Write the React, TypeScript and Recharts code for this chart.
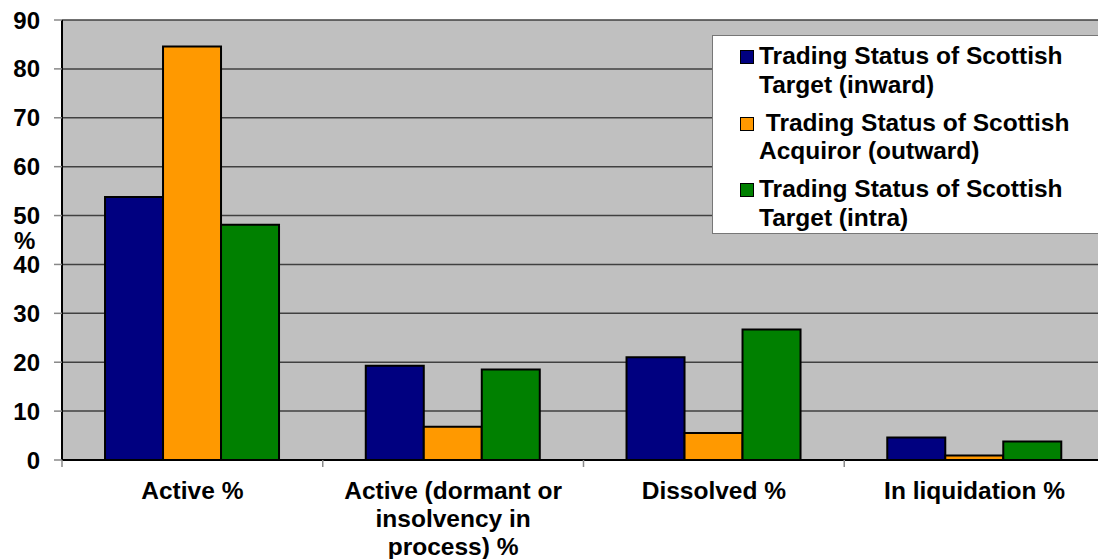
import { BarChart, Bar, XAxis, YAxis, CartesianGrid, Legend } from "recharts";

const categories = [
  "Active %",
  "Active (dormant or insolvency in process) %",
  "Dissolved %",
  "In liquidation %",
];
const inward = [53.8, 19.3, 21.0, 4.6];
const outward = [84.6, 6.8, 5.5, 0.9];
const intra = [48.1, 18.5, 26.7, 3.8];
const seriesNames = [
  "Trading Status of Scottish Target (inward)",
  " Trading Status of Scottish Acquiror (outward)",
  "Trading Status of Scottish Target (intra)",
];
const seriesColors = ["#000080", "#FF9900", "#008000"];
const yTicks = [0, 10, 20, 30, 40, 50, 60, 70, 80, 90];

const data = categories.map((name, i) => ({
  name,
  inward: inward[i],
  outward: outward[i],
  intra: intra[i],
}));

const CHART_W = 1110;
const CHART_H = 559;
const Y_AXIS_W = 62;
const X_AXIS_H = 99;
const MARGIN = { top: 20, right: 5, bottom: 0, left: 0 };
const BAND = (CHART_W - Y_AXIS_W - MARGIN.left - MARGIN.right) / categories.length;
const FONT = "'Liberation Sans', Arial, sans-serif";
const LABEL_SIZE = 24.5;

// word-wrap using canvas measurement so the breaks match the reference
function wrap(text: string, maxWidth: number): string[] {
  const ctx = document.createElement("canvas").getContext("2d");
  if (!ctx) return [text];
  ctx.font = `bold ${LABEL_SIZE}px 'Liberation Sans', Arial, sans-serif`;
  const words = text.split(" ");
  const lines: string[] = [];
  let cur = "";
  for (const w of words) {
    const next = cur ? cur + " " + w : w;
    if (cur && ctx.measureText(next).width > maxWidth) {
      lines.push(cur);
      cur = w;
    } else {
      cur = next;
    }
  }
  if (cur) lines.push(cur);
  return lines;
}

function CategoryTick(props: any) {
  const { x, y, payload } = props;
  const lines = wrap(payload.value, 240);
  return (
    <g>
      <line x1={x - BAND / 2} y1={y} x2={x - BAND / 2} y2={y + 7} stroke="#888" strokeWidth={1.5} />
      <text
        x={x}
        y={y + 39}
        textAnchor="middle"
        style={{ fontFamily: FONT, fontSize: LABEL_SIZE, fontWeight: 700, fill: "#000" }}
      >
        {lines.map((l, i) => (
          <tspan key={i} x={x} dy={i === 0 ? 0 : 28}>
            {l}
          </tspan>
        ))}
      </text>
    </g>
  );
}

function LegendBox() {
  return (
    <div
      style={{
        background: "#fff",
        border: "1px solid #777",
        width: 420,
        height: 199,
        boxSizing: "border-box",
        padding: "6px 0 0 27px",
        fontFamily: FONT,
        fontSize: LABEL_SIZE,
        fontWeight: 700,
        lineHeight: "28.5px",
        color: "#000",
      }}
    >
      {seriesNames.map((name, i) => (
        <div key={name} style={{ display: "flex", alignItems: "flex-start", marginBottom: 9.5 }}>
          <span
            style={{
              display: "inline-block",
              width: 12,
              height: 12,
              marginTop: 8,
              marginRight: 5,
              background: seriesColors[i],
              border: "1.5px solid #000",
              flexShrink: 0,
            }}
          />
          <span style={{ width: 330, whiteSpace: "pre-wrap" }}>{name}</span>
        </div>
      ))}
    </div>
  );
}

export default function App() {
  return (
    <div style={{ position: "fixed", left: 0, top: 0, width: 1098, height: 559, overflow: "hidden", background: "#fff" }}>
      <BarChart
        width={CHART_W}
        height={CHART_H}
        data={data}
        margin={MARGIN}
        barCategoryGap="16.5%"
        barGap={0}
      >
        <CartesianGrid vertical={false} stroke="#404040" strokeWidth={1.5} fill="#C0C0C0" fillOpacity={1} />
        <XAxis
          dataKey="name"
          height={X_AXIS_H}
          interval={0}
          tickSize={0}
          tickMargin={0}
          tick={<CategoryTick />}
          axisLine={{ stroke: "#000", strokeWidth: 2 }}
          tickLine={false}
        />
        <YAxis
          width={Y_AXIS_W}
          domain={[0, 90]}
          ticks={yTicks}
          interval={0}
          tickSize={8}
          tickMargin={14}
          axisLine={{ stroke: "#000", strokeWidth: 2 }}
          tickLine={{ stroke: "#888", strokeWidth: 1.5 }}
          tick={{ fontFamily: FONT, fontSize: 24, fontWeight: 700, fill: "#000" }}
          label={{
            value: "%",
            position: "insideLeft",
            offset: 14,
            dy: 0,
            style: { fontFamily: FONT, fontSize: 24, fontWeight: 700, fill: "#000", textAnchor: "start" },
          }}
        />
        <Legend
          layout="vertical"
          align="center"
          verticalAlign="middle"
          wrapperStyle={{ left: 712, top: 35, width: 420, height: 199 }}
          content={() => <LegendBox />}
        />
        <Bar dataKey="inward" name={seriesNames[0]} fill={seriesColors[0]} stroke="#000" strokeWidth={2} isAnimationActive={false} />
        <Bar dataKey="outward" name={seriesNames[1]} fill={seriesColors[1]} stroke="#000" strokeWidth={2} isAnimationActive={false} />
        <Bar dataKey="intra" name={seriesNames[2]} fill={seriesColors[2]} stroke="#000" strokeWidth={2} isAnimationActive={false} />
      </BarChart>
    </div>
  );
}
